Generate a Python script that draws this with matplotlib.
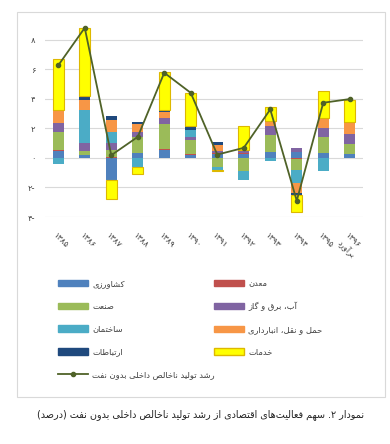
import re
import matplotlib
matplotlib.use('Agg')
import matplotlib.pyplot as plt
from matplotlib.patches import Patch, Rectangle
from matplotlib.lines import Line2D

plt.rcParams['font.family'] = ['DejaVu Sans']

years = ['۱۳۸۵', '۱۳۸۶', '۱۳۸۷', '۱۳۸۸', '۱۳۸۹', '۱۳۹۰',
         '۱۳۹۱', '۱۳۹۲', '۱۳۹۳', '۱۳۹۴', '۱۳۹۵', '۱۳۹۶\nبرآورد']

agriculture = [0.47, 0.18, -1.51, 0.34, 0.52, 0.18, 0.29, 0.25, 0.40, 0.40, 0.34, 0.27]
mining = [0.05, 0.02, 0.07, 0.0, 0.11, 0.08, 0.03, 0.08, 0.03, -0.05, 0.02, 0.0]
industry = [1.20, 0.27, 0.45, 1.04, 1.65, 0.97, -0.65, -0.90, 1.13, -0.80, 1.04, 0.70]
utilities = [0.63, 0.56, 0.50, 0.34, 0.43, 0.16, 0.16, 0.15, 0.60, 0.30, 0.59, 0.63]
construction = [-0.43, 2.20, 0.70, -0.63, 0.0, 0.52, -0.16, -0.60, -0.20, -0.86, -0.88, 0.0]
transport = [0.80, 0.72, 0.84, 0.59, 0.40, 0.0, 0.36, 0.05, 0.30, -0.68, 0.68, 0.77]
communication = [0.07, 0.23, 0.27, 0.14, 0.16, 0.22, 0.23, 0.03, 0.03, -0.11, 0.02, 0.09]
services = [3.45, 4.59, -1.24, -0.43, 2.56, 2.23, -0.05, 1.63, 0.92, -1.13, 1.83, 1.49]
gdp_non_oil = [6.26, 8.80, 0.18, 1.42, 5.76, 4.40, 0.22, 0.68, 3.28, -2.90, 3.73, 3.98]

sector_names = ['کشاورزی', 'معدن', 'صنعت', 'آب، برق و گاز', 'ساختمان',
                'حمل و نقل، انبارداری', 'ارتباطات', 'خدمات']
line_name = 'رشد تولید ناخالص داخلی بدون نفت'
y_ticks = [-4, -2, 0, 2, 4, 6, 8]
y_tick_labels = ['۴-', '۲-', '۰', '۲', '۴', '۶', '۸']
caption = 'نمودار ۲. سهم فعالیت\u200cهای اقتصادی از رشد تولید ناخالص داخلی بدون نفت (درصد)'

colors = ['#4F81BD', '#C0504D', '#9BBB59', '#8064A2', '#4BACC6', '#F79646', '#1F497D', '#FFFF00']

# presentation forms: isolated, final, initial, medial (None -> right joining only)
FORMS = {
    'ا': (0xFE8D, 0xFE8E, None, None), 'آ': (0xFE81, 0xFE82, None, None),
    'ب': (0xFE8F, 0xFE90, 0xFE91, 0xFE92), 'پ': (0xFB56, 0xFB57, 0xFB58, 0xFB59),
    'ت': (0xFE95, 0xFE96, 0xFE97, 0xFE98), 'ث': (0xFE99, 0xFE9A, 0xFE9B, 0xFE9C),
    'ج': (0xFE9D, 0xFE9E, 0xFE9F, 0xFEA0), 'چ': (0xFB7A, 0xFB7B, 0xFB7C, 0xFB7D),
    'ح': (0xFEA1, 0xFEA2, 0xFEA3, 0xFEA4), 'خ': (0xFEA5, 0xFEA6, 0xFEA7, 0xFEA8),
    'د': (0xFEA9, 0xFEAA, None, None), 'ذ': (0xFEAB, 0xFEAC, None, None),
    'ر': (0xFEAD, 0xFEAE, None, None), 'ز': (0xFEAF, 0xFEB0, None, None),
    'ژ': (0xFB8A, 0xFB8B, None, None),
    'س': (0xFEB1, 0xFEB2, 0xFEB3, 0xFEB4), 'ش': (0xFEB5, 0xFEB6, 0xFEB7, 0xFEB8),
    'ص': (0xFEB9, 0xFEBA, 0xFEBB, 0xFEBC), 'ض': (0xFEBD, 0xFEBE, 0xFEBF, 0xFEC0),
    'ط': (0xFEC1, 0xFEC2, 0xFEC3, 0xFEC4), 'ظ': (0xFEC5, 0xFEC6, 0xFEC7, 0xFEC8),
    'ع': (0xFEC9, 0xFECA, 0xFECB, 0xFECC), 'غ': (0xFECD, 0xFECE, 0xFECF, 0xFED0),
    'ف': (0xFED1, 0xFED2, 0xFED3, 0xFED4), 'ق': (0xFED5, 0xFED6, 0xFED7, 0xFED8),
    'ک': (0xFB8E, 0xFB8F, 0xFB90, 0xFB91), 'گ': (0xFB92, 0xFB93, 0xFB94, 0xFB95),
    'ل': (0xFEDD, 0xFEDE, 0xFEDF, 0xFEE0), 'م': (0xFEE1, 0xFEE2, 0xFEE3, 0xFEE4),
    'ن': (0xFEE5, 0xFEE6, 0xFEE7, 0xFEE8), 'و': (0xFEED, 0xFEEE, None, None),
    'ه': (0xFEE9, 0xFEEA, 0xFEEB, 0xFEEC), 'ی': (0xFBFC, 0xFBFD, 0xFBFE, 0xFBFF),
}


def shape_line(s):
    out = []
    for i, c in enumerate(s):
        if c not in FORMS:
            if c != '\u200c':
                out.append(c)
            continue
        prev = s[i - 1] if i > 0 else ''
        nxt = s[i + 1] if i + 1 < len(s) else ''
        join_prev = prev in FORMS and FORMS[prev][2] is not None
        join_next = FORMS[c][2] is not None and nxt in FORMS
        iso, fin, ini, med = FORMS[c]
        if join_prev and join_next:
            out.append(chr(med))
        elif join_prev:
            out.append(chr(fin))
        elif join_next:
            out.append(chr(ini))
        else:
            out.append(chr(iso))
    vis = ''.join(out)[::-1]
    vis = re.sub(r'[0-9۰-۹]+', lambda m: m.group(0)[::-1], vis)
    vis = vis.translate(str.maketrans('()', ')('))
    return vis


def fa(s):
    return '\n'.join(shape_line(part) for part in s.split('\n'))


fig = plt.figure(figsize=(3.9, 4.44), dpi=100)
fig.patches.append(Rectangle((17 / 390, 47 / 444), 368 / 390, 385 / 444,
                             transform=fig.transFigure, fill=False,
                             edgecolor='#D9D9D9', linewidth=0.8))
ax = fig.add_axes([45 / 390, 227 / 444, 318 / 390, 201 / 444])

x = list(range(len(years)))
width = 0.42
pos_bottom = [0.0] * len(years)
neg_bottom = [0.0] * len(years)
series = [agriculture, mining, industry, utilities, construction, transport, communication, services]
for vals, col in zip(series, colors):
    bottoms = [pos_bottom[i] if v >= 0 else neg_bottom[i] for i, v in enumerate(vals)]
    edge = '#DDB800' if col == '#FFFF00' else 'none'
    ax.bar(x, vals, width, bottom=bottoms, color=col, edgecolor=edge, linewidth=0.8, zorder=2)
    for i, v in enumerate(vals):
        if v >= 0:
            pos_bottom[i] += v
        else:
            neg_bottom[i] += v

ax.plot(x, gdp_non_oil, color='#4F6228', linewidth=1.3, marker='o', markersize=3, zorder=3)

ax.set_xlim(-0.5, len(years) - 0.5)
ax.set_ylim(-4, 9.6)
ax.set_yticks(y_ticks)
ax.set_yticklabels(y_tick_labels, fontsize=6, color='#404040')
ax.set_xticks(x)
ax.set_xticklabels([fa(y) for y in years], fontsize=6, color='#404040', rotation=-45,
                   ha='left', va='top', rotation_mode='anchor')
ax.tick_params(axis='both', length=0)
ax.tick_params(axis='y', pad=7)
ax.tick_params(axis='x', pad=10)
ax.grid(axis='y', color='#D9D9D9', linewidth=0.8, zorder=0)
for sp in ax.spines.values():
    sp.set_visible(False)

handles = [Patch(facecolor=c, edgecolor=('#DDB800' if c == '#FFFF00' else c)) for c in colors]
line_handle = Line2D([], [], color='#4F6228', linewidth=1.3, marker='o', markersize=3)
left_h = [handles[0], handles[2], handles[4], handles[6], line_handle]
left_l = [fa(sector_names[0]), fa(sector_names[2]), fa(sector_names[4]), fa(sector_names[6]), fa(line_name)]
right_h = [handles[1], handles[3], handles[5], handles[7]]
right_l = [fa(sector_names[1]), fa(sector_names[3]), fa(sector_names[5]), fa(sector_names[7])]

legend_kw = dict(loc='upper left', frameon=False, fontsize=6, handlelength=3.6, handleheight=0.85,
                 handletextpad=0.5, labelspacing=1.65, borderpad=0, borderaxespad=0,
                 labelcolor='#404040')
fig.legend(left_h, left_l, bbox_to_anchor=(58 / 390, 1 - 279 / 444), **legend_kw)
fig.legend(right_h, right_l, bbox_to_anchor=(214 / 390, 1 - 279 / 444), **legend_kw)

fig.text(0.515, 1 - 415 / 444, fa(caption), fontsize=6.9, ha='center', va='center', color='#222222')

fig.savefig('out.png', dpi=100)
